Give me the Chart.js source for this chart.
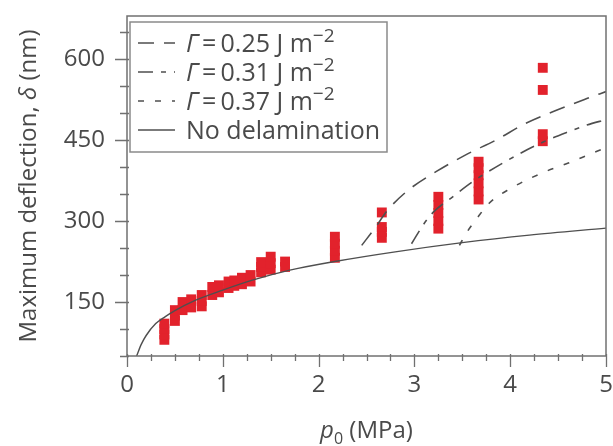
<!DOCTYPE html>
<html>
<head>
<meta charset="utf-8">
<script src="https://cdn.jsdelivr.net/npm/chart.js@4.4.1/dist/chart.umd.min.js"></script>
<style>
  html, body { margin: 0; padding: 0; background: #fff; }
  #wrap { width: 613px; height: 446px; }
</style>
</head>
<body>
<div id="wrap"><canvas id="c" width="613" height="446"></canvas></div>
<script>
// Measured blister deflections: applied pressure p0 (MPa) and maximum deflection (nm)
const measPressure = [
  0.39, 0.39, 0.39, 0.39,
  0.50, 0.50, 0.50,
  0.58, 0.58, 0.67, 0.67,
  0.78, 0.78, 0.78,
  0.89, 0.89, 0.96, 0.96,
  1.06, 1.06, 1.12, 1.12,
  1.20, 1.20, 1.29, 1.29,
  1.40, 1.40, 1.40,
  1.50, 1.50, 1.50,
  1.65, 1.65,
  2.17, 2.17, 2.17, 2.17,
  2.66, 2.66, 2.66, 2.66,
  3.25, 3.25, 3.25, 3.25, 3.25,
  3.67, 3.67, 3.67, 3.67, 3.67, 3.67,
  4.34, 4.34, 4.34, 4.34
];
const measDeflection = [
  80, 90, 100, 110,
  115, 125, 135,
  135, 150, 140, 155,
  142, 152, 163,
  163, 178, 168, 181,
  176, 188, 180, 190,
  183, 195, 188, 200,
  205, 215, 224,
  210, 222, 234,
  215, 225,
  232, 245, 258, 271,
  269, 280, 289, 316,
  286, 300, 315, 330, 345,
  340, 355, 370, 385, 398, 410,
  448, 461, 543, 584
];

// Model curve without delamination
const noDelamP = [0.10, 0.15, 0.20, 0.30, 0.40, 0.50, 0.70, 1.00, 1.30, 1.70, 2.20, 2.80, 3.50, 4.20, 5.00];
const noDelamD = [50, 72, 88, 110, 123, 134, 152, 172, 190, 209, 226, 243, 260, 274, 287];

// Model curves with delamination for three adhesion energies
const gamma025P = [2.45, 2.60, 2.71, 2.92, 3.23, 3.55, 3.85, 4.15, 4.45, 4.80, 5.00];
const gamma025D = [255, 290, 318, 355, 392, 424, 450, 480, 503, 527, 540];
const gamma031P = [2.97, 3.10, 3.20, 3.40, 3.60, 3.85, 4.10, 4.35, 4.60, 4.80, 5.00];
const gamma031D = [258, 295, 317, 345, 372, 400, 425, 447, 465, 478, 488];
const gamma037P = [3.47, 3.55, 3.64, 3.78, 4.00, 4.33, 4.60, 4.75, 5.00];
const gamma037D = [255, 280, 302, 333, 360, 389, 407, 418, 436];

const gammaLabels = ['0.25', '0.31', '0.37'];
const xTickValues = [0, 1, 2, 3, 4, 5];
const yTickValues = [150, 300, 450, 600];

const FONT = '"Open Sans", "DejaVu Sans", sans-serif';
const TEXT = '#4a4a4a';
const AXIS = '#707070';
const RED = '#e2222c';
const CURVE = '#4f4f4f';

const toXY = (xs, ys) => xs.map((x, i) => ({ x, y: ys[i] }));

const curveStyle = {
  type: 'line',
  showLine: true,
  pointRadius: 0,
  borderColor: CURVE,
  borderWidth: 1.6,
  cubicInterpolationMode: 'monotone',
  fill: false,
  order: 0
};

const datasets = [
  Object.assign({}, curveStyle, { label: gammaLabels[0], data: toXY(gamma025P, gamma025D), borderDash: [16, 10] }),
  Object.assign({}, curveStyle, { label: gammaLabels[1], data: toXY(gamma031P, gamma031D), borderDash: [15, 8, 5, 8] }),
  Object.assign({}, curveStyle, { label: gammaLabels[2], data: toXY(gamma037P, gamma037D), borderDash: [6, 11] }),
  Object.assign({}, curveStyle, { label: 'No delamination', data: toXY(noDelamP, noDelamD), borderDash: [], borderWidth: 1.4 }),
  {
    type: 'scatter',
    label: 'Measured',
    data: toXY(measPressure, measDeflection),
    pointStyle: 'rect',
    pointRadius: 7,
    backgroundColor: RED,
    borderWidth: 0,
    order: 1
  }
];

// Draws a run of text pieces (italic, sub/superscript) starting at x
function drawRuns(ctx, parts, x, y, align) {
  const setFont = p => { ctx.font = (p.it ? 'italic ' : '') + (p.sz || 24) + 'px ' + FONT; };
  let w = 0;
  parts.forEach(p => { setFont(p); w += ctx.measureText(p.t).width; });
  if (align === 'center') x -= w / 2;
  parts.forEach(p => {
    setFont(p);
    ctx.fillText(p.t, x, y + (p.dy || 0));
    x += ctx.measureText(p.t).width;
  });
}

const decor = {
  id: 'decor',
  afterDraw(chart) {
    const { ctx, chartArea: a, scales: { x, y } } = chart;
    ctx.save();

    // frame around the plotting area
    ctx.strokeStyle = AXIS;
    ctx.lineWidth = 1.5;
    ctx.strokeRect(a.left, a.top, a.right - a.left, a.bottom - a.top);

    // x tick marks every 0.25 MPa, longer at whole numbers
    ctx.lineWidth = 1.3;
    ctx.beginPath();
    for (let i = 0; i <= 20; i++) {
      const px = Math.round(x.getPixelForValue(i * 0.25)) + 0.5;
      const len = i % 4 === 0 ? 11 : 5;
      ctx.moveTo(px, a.bottom - 2);
      ctx.lineTo(px, a.bottom + len);
    }
    // y tick marks every 50 nm, longer at labelled values
    for (let v = 50; v <= 650; v += 50) {
      const py = Math.round(y.getPixelForValue(v)) + 0.5;
      const len = v % 150 === 0 ? 12 : 7;
      ctx.moveTo(a.left + 2, py);
      ctx.lineTo(a.left - len, py);
    }
    ctx.stroke();

    // legend box
    const bx = 130, by = 22, bw = 257, bh = 130;
    ctx.fillStyle = '#fff';
    ctx.fillRect(bx, by, bw, bh);
    ctx.strokeStyle = '#8a8a8a';
    ctx.lineWidth = 1.5;
    ctx.strokeRect(bx, by, bw, bh);

    const rowY = [43, 72, 101, 130];
    const items = chart.data.datasets.slice(0, 4);
    items.forEach((ds, i) => {
      const cy = rowY[i];
      ctx.strokeStyle = CURVE;
      ctx.lineWidth = 1.6;
      ctx.setLineDash(ds.borderDash || []);
      ctx.beginPath();
      ctx.moveTo(138, cy);
      ctx.lineTo(175, cy);
      ctx.stroke();
      ctx.setLineDash([]);
      ctx.fillStyle = TEXT;
      ctx.textBaseline = 'alphabetic';
      ctx.textAlign = 'left';
      if (i < 3) {
        drawRuns(ctx, [
          { t: 'Γ', it: true, sz: 25 },
          { t: '\u2009=\u2009' + ds.label + ' J m', sz: 25 },
          { t: '−2', sz: 19, dy: -10 }
        ], 186, cy + 9);
      } else {
        drawRuns(ctx, [{ t: ds.label, sz: 25 }], 186, cy + 9);
      }
    });

    // axis titles
    ctx.fillStyle = TEXT;
    ctx.textBaseline = 'alphabetic';
    ctx.textAlign = 'left';
    drawRuns(ctx, [
      { t: 'p', it: true },
      { t: '0', sz: 16, dy: 6 },
      { t: ' (MPa)' }
    ], (a.left + a.right) / 2, 438, 'center');

    ctx.translate(28, (a.top + a.bottom) / 2);
    ctx.rotate(-Math.PI / 2);
    drawRuns(ctx, [
      { t: 'Maximum deflection, ' },
      { t: 'δ', it: true },
      { t: ' (nm)' }
    ], 0, 8, 'center');

    ctx.restore();
  }
};

new Chart(document.getElementById('c'), {
  type: 'scatter',
  data: { datasets },
  options: {
    responsive: false,
    animation: false,
    devicePixelRatio: 1,
    layout: { padding: { top: 16, right: 2, left: 0, bottom: 0 } },
    plugins: { legend: { display: false }, tooltip: { enabled: false } },
    scales: {
      x: {
        type: 'linear',
        min: 0,
        max: 5,
        border: { display: false },
        grid: { display: false, drawTicks: false },
        ticks: {
          padding: 15,
          color: TEXT,
          font: { family: FONT, size: 24 },
          maxRotation: 0,
          autoSkip: false
        },
        afterBuildTicks(s) { s.ticks = xTickValues.map(v => ({ value: v })); },
        afterFit(s) { s.height = 90; s.paddingLeft = 0; s.paddingRight = 0; }
      },
      y: {
        type: 'linear',
        min: 50,
        max: 680,
        border: { display: false },
        grid: { display: false, drawTicks: false },
        ticks: {
          padding: 22,
          color: TEXT,
          font: { family: FONT, size: 24 }
        },
        afterBuildTicks(s) { s.ticks = yTickValues.map(v => ({ value: v })); },
        afterFit(s) { s.width = 127; s.paddingTop = 0; s.paddingBottom = 0; }
      }
    }
  },
  plugins: [decor]
});
</script>
</body>
</html>
